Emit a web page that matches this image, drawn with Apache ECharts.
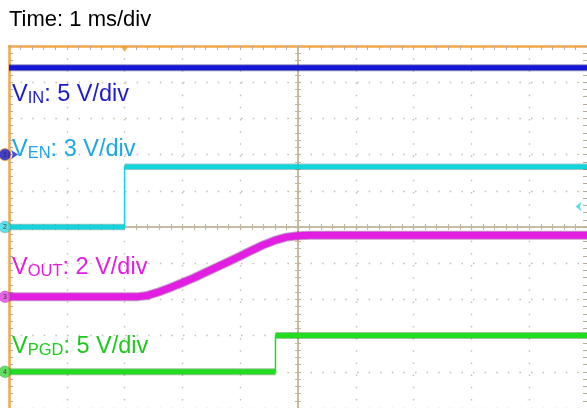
<!DOCTYPE html>
<html><head><meta charset="utf-8">
<script src="https://cdn.jsdelivr.net/npm/echarts@6/dist/echarts.min.js"></script>
<style>html,body{margin:0;padding:0;background:#fff}#c{width:587px;height:408px}</style>
</head><body><div id="c"></div>
<script>
// ---- data (time in ms, trigger at 0; voltages in V) ----
const timeLabel = 'Time: 1 ms/div';
const vinTime = [-2, 8];
const vinVolts = [12, 12];
const venTime = [-2, 0, 0, 8];
const venVolts = [0, 0, 5, 5];
const voutTime = [-2, 0.2, 0.4, 0.6, 0.8, 1.0, 1.2, 1.4, 1.6, 1.8, 2.0, 2.2, 2.4, 2.6, 2.8, 3.0, 3.2, 8];
const voutVolts = [0, 0, 0.08, 0.28, 0.52, 0.78, 1.05, 1.35, 1.65, 1.95, 2.25, 2.57, 2.87, 3.12, 3.3, 3.38, 3.4, 3.4];
const vpgdTime = [-2, 2.61, 2.61, 8];
const vpgdVolts = [0, 0, 5, 5];
const channelSubs = ['IN', 'EN', 'OUT', 'PGD'];
const voltsPerDiv = [5, 3, 2, 5];
const groundDiv = [2, 0, -1.93, -4];
const trigTime = 0;
const trigLevelVolts = 1.7; // on V_EN

const traceColors = ['#1616d6', '#12d4dc', '#e21ee2', '#22dc22'];
const edgeColors = ['rgba(10,10,110,0.45)', 'rgba(0,110,120,0.4)', 'rgba(110,0,110,0.4)', 'rgba(0,110,0,0.4)'];
const labelColors = ['#1c1ccf', '#1ea6ea', '#e01ee0', '#1ec81e'];
const FONT = "'Liberation Sans', Arial, sans-serif";

function toDiv(v, ch) { return groundDiv[ch] + v / voltsPerDiv[ch]; }
function pts(ts, vs, ch) { return ts.map((t, i) => [t, toDiv(vs[i], ch)]); }
function broken(ts, vs, ch) {
  const out = [];
  for (let i = 0; i < ts.length; i++) {
    if (i > 0 && ts[i] === ts[i - 1]) out.push([ts[i], '-']);
    out.push([ts[i], toDiv(vs[i], ch)]);
  }
  return out;
}

const chart = echarts.init(document.getElementById('c'), null, {renderer: 'canvas'});
const tickGray = '#b4ab9a';
const centerCol = '#c2b69e';
const dotCol = '#c6bead';

function lineSeries(data, color, width, z) {
  return {type: 'line', data, symbol: 'none', silent: true, animation: false, z: z || 2,
    connectNulls: false, lineStyle: {color, width, cap: 'butt', join: 'round'}};
}

const series = [
  lineSeries(pts(vinTime, vinVolts, 0), edgeColors[0], 7, 1),
  lineSeries(pts(vinTime, vinVolts, 0), traceColors[0], 5),
  lineSeries(pts(venTime, venVolts, 1), traceColors[1], 1.5),
  lineSeries(broken(venTime, venVolts, 1), edgeColors[1], 6.5, 1),
  lineSeries(broken(venTime, venVolts, 1), traceColors[1], 4.5),
  lineSeries(pts(voutTime, voutVolts, 2), edgeColors[2], 9, 1),
  lineSeries(pts(voutTime, voutVolts, 2), traceColors[2], 7),
  lineSeries(pts(vpgdTime, vpgdVolts, 3), traceColors[3], 1.5),
  lineSeries(broken(vpgdTime, vpgdVolts, 3), edgeColors[3], 7, 1),
  lineSeries(broken(vpgdTime, vpgdVolts, 3), traceColors[3], 5),
  // channel ground markers
  {type: 'scatter', clip: false, silent: true, animation: false, z: 5,
   data: groundDiv.map((g, i) => ({value: [-2, g], itemStyle: {color: ['#1212b8', '#36d6de', '#e040e0', '#3ed43e'][i], borderColor: i === 0 ? '#e8a040' : 'rgba(0,0,0,0.15)', borderWidth: 1}, label: {formatter: String(i + 1)}})),
   symbol: 'circle', symbolSize: 12, symbolOffset: [-4, 0],
   label: {show: true, position: 'inside', fontSize: 7, color: '#222', fontFamily: FONT}},
  // ch1 arrow
  {type: 'scatter', clip: false, silent: true, animation: false, z: 5,
   data: [[-2, groundDiv[0]]], symbol: 'arrow', symbolRotate: -90, symbolSize: [7, 7], symbolOffset: [9, 0],
   itemStyle: {color: '#1a1ae0'}},
  // trigger time marker
  {type: 'scatter', clip: false, silent: true, animation: false, z: 5,
   data: [[trigTime, 5]], symbol: 'triangle', symbolRotate: 180, symbolSize: [8, 6], symbolOffset: [0, 3],
   itemStyle: {color: '#f0a030'}},
  // trigger level marker
  {type: 'scatter', clip: false, silent: true, animation: false, z: 5,
   data: [[7.8, toDiv(trigLevelVolts, 1)]], symbol: 'arrow', symbolRotate: 90, symbolSize: [7, 6],
   itemStyle: {color: '#30d8e8'}}
];

function richLabel(i, text) {
  return {type: 'text', left: 12, top: 0, z: 10,
    style: {text: '{m|V}{s|' + channelSubs[i] + '}{m|' + text + '}',
      rich: {m: {fontSize: 23.5, fontFamily: FONT, fill: labelColors[i], verticalAlign: 'bottom', lineHeight: 24},
             s: {fontSize: 16.5, fontFamily: FONT, fill: labelColors[i], verticalAlign: 'bottom', lineHeight: 12}}}};
}
const labelTops = [83, 138, 256, 335];
const labelTexts = [': 5 V/div', ': 3 V/div', ': 2 V/div', ': 5 V/div'];
const graphic = [{type: 'text', left: 9, top: 9, style: {text: timeLabel, fontSize: 22, fontFamily: FONT, fill: '#000'}}]
  .concat(labelTexts.map((t, i) => Object.assign(richLabel(i, t), {top: labelTops[i]})));

function centerAxis(dim, inside, idx) {
  return {type: 'value', min: -5, max: 5, interval: 1, position: dim === 'x' ? 'bottom' : 'left',
    axisLine: {show: true, onZero: true, onZeroAxisIndex: idx, lineStyle: {color: centerCol, width: 1.5}},
    axisTick: {show: true, inside, length: 3, lineStyle: {color: centerCol, width: 1}},
    minorTick: {show: true, splitNumber: 5, length: 3, lineStyle: {color: centerCol, width: 1}},
    axisLabel: {show: false}, splitLine: {show: false}};
}

chart.setOption({
  animation: false,
  backgroundColor: '#fff',
  grid: {left: 9, top: 46, width: 580, height: 365, containLabel: false},
  xAxis: [
    {type: 'value', min: -2, max: 8, interval: 1, position: 'top',
     axisLine: {show: true, onZero: false, lineStyle: {color: '#f2a84a', width: 2.5}},
     axisTick: {show: true, inside: true, length: 4, lineStyle: {color: tickGray}},
     minorTick: {show: true, splitNumber: 5, length: 4, lineStyle: {color: tickGray}},
     axisLabel: {show: false},
     splitLine: {show: true, lineStyle: {color: dotCol, width: 1.4, type: [1.5, 10.67]}}},
    centerAxis('x', true, 0),
    centerAxis('x', false, 0)
  ],
  yAxis: [
    {type: 'value', min: -5, max: 5, interval: 1, position: 'left',
     axisLine: {show: true, onZero: false, lineStyle: {color: '#f2a84a', width: 2.5}},
     axisTick: {show: true, inside: true, length: 4, lineStyle: {color: tickGray}},
     minorTick: {show: true, splitNumber: 5, length: 4, lineStyle: {color: tickGray}},
     axisLabel: {show: false},
     splitLine: {show: true, lineStyle: {color: dotCol, width: 1.4, type: [1.5, 10.1]}}},
    centerAxis('y', true, 1),
    centerAxis('y', false, 1),
    {type: 'value', min: -5, max: 5, interval: 1, position: 'right',
     axisLine: {show: false, onZero: false},
     axisTick: {show: true, inside: true, length: 4, lineStyle: {color: tickGray}},
     minorTick: {show: true, splitNumber: 5, length: 4, lineStyle: {color: tickGray}},
     axisLabel: {show: false}, splitLine: {show: false}}
  ],
  series,
  graphic
});
</script></body></html>
